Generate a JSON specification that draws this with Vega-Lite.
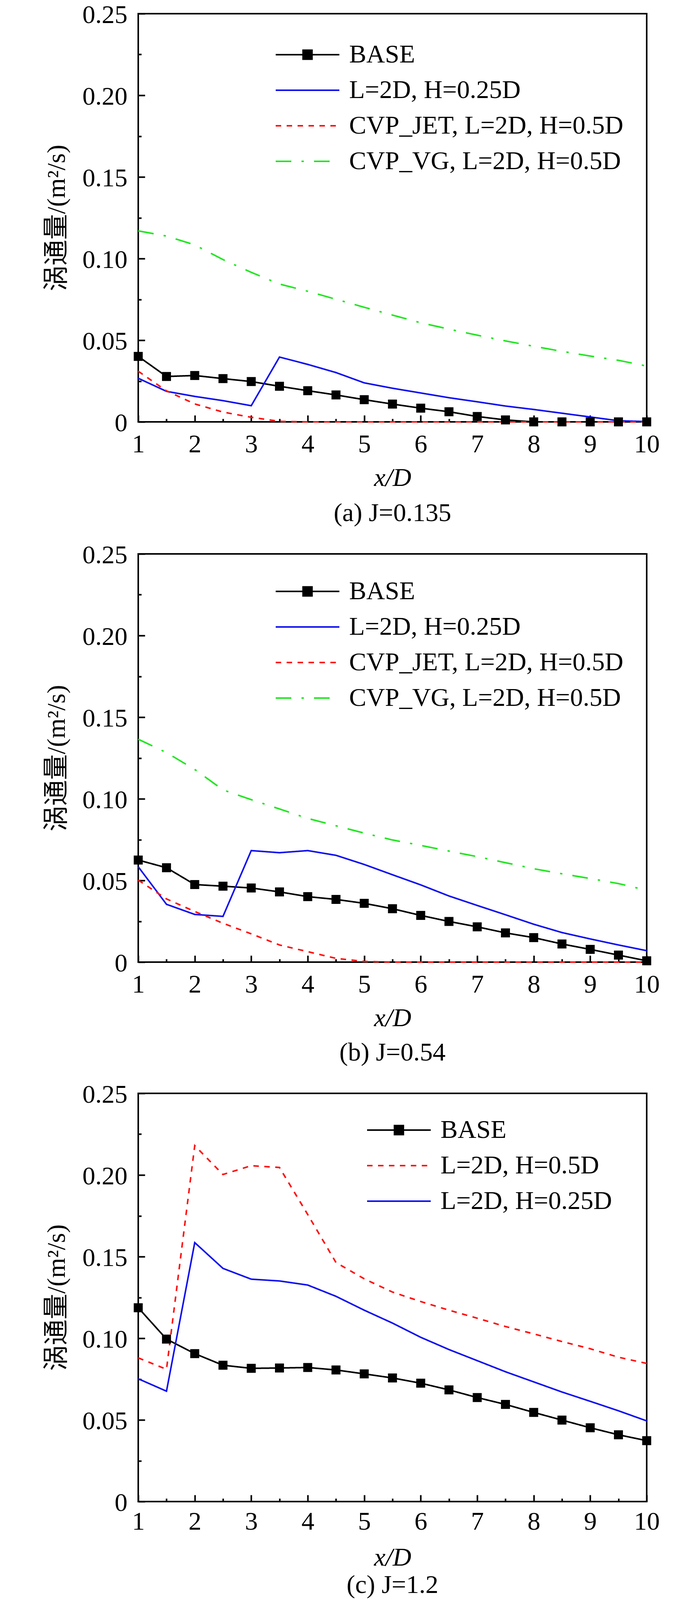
{
  "$schema": "https://vega.github.io/schema/vega-lite/v6.json",
  "padding": {"left": 110, "top": 3, "right": 5, "bottom": 0},
  "background": "white",
  "spacing": 37,
  "datasets": {
    "a": [
      {"x": 1, "s": "BASE", "v": 0.0401}, {"x": 1.5, "s": "BASE", "v": 0.0278}, {"x": 2, "s": "BASE", "v": 0.0284}, {"x": 2.5, "s": "BASE", "v": 0.0265}, {"x": 3, "s": "BASE", "v": 0.0247}, {"x": 3.5, "s": "BASE", "v": 0.0218}, {"x": 4, "s": "BASE", "v": 0.0191}, {"x": 4.5, "s": "BASE", "v": 0.0165}, {"x": 5, "s": "BASE", "v": 0.0136}, {"x": 5.5, "s": "BASE", "v": 0.0109}, {"x": 6, "s": "BASE", "v": 0.0084}, {"x": 6.5, "s": "BASE", "v": 0.0062}, {"x": 7, "s": "BASE", "v": 0.0033}, {"x": 7.5, "s": "BASE", "v": 0.0012}, {"x": 8, "s": "BASE", "v": 0.0}, {"x": 8.5, "s": "BASE", "v": 0.0}, {"x": 9, "s": "BASE", "v": 0.0}, {"x": 9.5, "s": "BASE", "v": 0.0}, {"x": 10, "s": "BASE", "v": 0.0},
      {"x": 1, "s": "L=2D, H=0.25D", "v": 0.0267}, {"x": 1.5, "s": "L=2D, H=0.25D", "v": 0.0187}, {"x": 2, "s": "L=2D, H=0.25D", "v": 0.0156}, {"x": 2.5, "s": "L=2D, H=0.25D", "v": 0.013}, {"x": 3, "s": "L=2D, H=0.25D", "v": 0.0099}, {"x": 3.5, "s": "L=2D, H=0.25D", "v": 0.0397}, {"x": 4, "s": "L=2D, H=0.25D", "v": 0.0352}, {"x": 4.5, "s": "L=2D, H=0.25D", "v": 0.0302}, {"x": 5, "s": "L=2D, H=0.25D", "v": 0.0239}, {"x": 5.5, "s": "L=2D, H=0.25D", "v": 0.0206}, {"x": 6, "s": "L=2D, H=0.25D", "v": 0.0177}, {"x": 6.5, "s": "L=2D, H=0.25D", "v": 0.0148}, {"x": 7, "s": "L=2D, H=0.25D", "v": 0.0123}, {"x": 7.5, "s": "L=2D, H=0.25D", "v": 0.0097}, {"x": 8, "s": "L=2D, H=0.25D", "v": 0.0076}, {"x": 8.5, "s": "L=2D, H=0.25D", "v": 0.0053}, {"x": 9, "s": "L=2D, H=0.25D", "v": 0.003}, {"x": 9.5, "s": "L=2D, H=0.25D", "v": 0.0007}, {"x": 10, "s": "L=2D, H=0.25D", "v": 0.0002},
      {"x": 1, "s": "CVP_JET, L=2D, H=0.5D", "v": 0.031}, {"x": 1.5, "s": "CVP_JET, L=2D, H=0.5D", "v": 0.019}, {"x": 2, "s": "CVP_JET, L=2D, H=0.5D", "v": 0.011}, {"x": 2.5, "s": "CVP_JET, L=2D, H=0.5D", "v": 0.006}, {"x": 3, "s": "CVP_JET, L=2D, H=0.5D", "v": 0.0028}, {"x": 3.5, "s": "CVP_JET, L=2D, H=0.5D", "v": 0.0003}, {"x": 4, "s": "CVP_JET, L=2D, H=0.5D", "v": 0.0}, {"x": 4.5, "s": "CVP_JET, L=2D, H=0.5D", "v": 0.0}, {"x": 5, "s": "CVP_JET, L=2D, H=0.5D", "v": 0.0}, {"x": 5.5, "s": "CVP_JET, L=2D, H=0.5D", "v": 0.0}, {"x": 6, "s": "CVP_JET, L=2D, H=0.5D", "v": 0.0}, {"x": 6.5, "s": "CVP_JET, L=2D, H=0.5D", "v": 0.0}, {"x": 7, "s": "CVP_JET, L=2D, H=0.5D", "v": 0.0}, {"x": 7.5, "s": "CVP_JET, L=2D, H=0.5D", "v": 0.0}, {"x": 8, "s": "CVP_JET, L=2D, H=0.5D", "v": 0.0}, {"x": 8.5, "s": "CVP_JET, L=2D, H=0.5D", "v": 0.0}, {"x": 9, "s": "CVP_JET, L=2D, H=0.5D", "v": 0.0}, {"x": 9.5, "s": "CVP_JET, L=2D, H=0.5D", "v": 0.0}, {"x": 10, "s": "CVP_JET, L=2D, H=0.5D", "v": 0.0},
      {"x": 1, "s": "CVP_VG, L=2D, H=0.5D", "v": 0.117}, {"x": 1.5, "s": "CVP_VG, L=2D, H=0.5D", "v": 0.1138}, {"x": 2, "s": "CVP_VG, L=2D, H=0.5D", "v": 0.1084}, {"x": 2.5, "s": "CVP_VG, L=2D, H=0.5D", "v": 0.0994}, {"x": 3, "s": "CVP_VG, L=2D, H=0.5D", "v": 0.0916}, {"x": 3.5, "s": "CVP_VG, L=2D, H=0.5D", "v": 0.0844}, {"x": 4, "s": "CVP_VG, L=2D, H=0.5D", "v": 0.08}, {"x": 4.5, "s": "CVP_VG, L=2D, H=0.5D", "v": 0.0751}, {"x": 5, "s": "CVP_VG, L=2D, H=0.5D", "v": 0.0702}, {"x": 5.5, "s": "CVP_VG, L=2D, H=0.5D", "v": 0.0654}, {"x": 6, "s": "CVP_VG, L=2D, H=0.5D", "v": 0.0607}, {"x": 6.5, "s": "CVP_VG, L=2D, H=0.5D", "v": 0.0568}, {"x": 7, "s": "CVP_VG, L=2D, H=0.5D", "v": 0.0531}, {"x": 7.5, "s": "CVP_VG, L=2D, H=0.5D", "v": 0.0496}, {"x": 8, "s": "CVP_VG, L=2D, H=0.5D", "v": 0.0463}, {"x": 8.5, "s": "CVP_VG, L=2D, H=0.5D", "v": 0.0432}, {"x": 9, "s": "CVP_VG, L=2D, H=0.5D", "v": 0.0403}, {"x": 9.5, "s": "CVP_VG, L=2D, H=0.5D", "v": 0.0377}, {"x": 10, "s": "CVP_VG, L=2D, H=0.5D", "v": 0.0342}
    ],
    "b": [
      {"x": 1, "s": "BASE", "v": 0.0625}, {"x": 1.5, "s": "BASE", "v": 0.0578}, {"x": 2, "s": "BASE", "v": 0.0475}, {"x": 2.5, "s": "BASE", "v": 0.0465}, {"x": 3, "s": "BASE", "v": 0.0454}, {"x": 3.5, "s": "BASE", "v": 0.043}, {"x": 4, "s": "BASE", "v": 0.0401}, {"x": 4.5, "s": "BASE", "v": 0.0384}, {"x": 5, "s": "BASE", "v": 0.036}, {"x": 5.5, "s": "BASE", "v": 0.0327}, {"x": 6, "s": "BASE", "v": 0.0286}, {"x": 6.5, "s": "BASE", "v": 0.0249}, {"x": 7, "s": "BASE", "v": 0.0216}, {"x": 7.5, "s": "BASE", "v": 0.0179}, {"x": 8, "s": "BASE", "v": 0.015}, {"x": 8.5, "s": "BASE", "v": 0.0111}, {"x": 9, "s": "BASE", "v": 0.0078}, {"x": 9.5, "s": "BASE", "v": 0.0043}, {"x": 10, "s": "BASE", "v": 0.0008},
      {"x": 1, "s": "L=2D, H=0.25D", "v": 0.0584}, {"x": 1.5, "s": "L=2D, H=0.25D", "v": 0.0354}, {"x": 2, "s": "L=2D, H=0.25D", "v": 0.0292}, {"x": 2.5, "s": "L=2D, H=0.25D", "v": 0.028}, {"x": 3, "s": "L=2D, H=0.25D", "v": 0.0683}, {"x": 3.5, "s": "L=2D, H=0.25D", "v": 0.067}, {"x": 4, "s": "L=2D, H=0.25D", "v": 0.0683}, {"x": 4.5, "s": "L=2D, H=0.25D", "v": 0.0654}, {"x": 5, "s": "L=2D, H=0.25D", "v": 0.0598}, {"x": 5.5, "s": "L=2D, H=0.25D", "v": 0.0535}, {"x": 6, "s": "L=2D, H=0.25D", "v": 0.0473}, {"x": 6.5, "s": "L=2D, H=0.25D", "v": 0.0405}, {"x": 7, "s": "L=2D, H=0.25D", "v": 0.0347}, {"x": 7.5, "s": "L=2D, H=0.25D", "v": 0.029}, {"x": 8, "s": "L=2D, H=0.25D", "v": 0.0232}, {"x": 8.5, "s": "L=2D, H=0.25D", "v": 0.0181}, {"x": 9, "s": "L=2D, H=0.25D", "v": 0.0142}, {"x": 9.5, "s": "L=2D, H=0.25D", "v": 0.0105}, {"x": 10, "s": "L=2D, H=0.25D", "v": 0.007},
      {"x": 1, "s": "CVP_JET, L=2D, H=0.5D", "v": 0.0502}, {"x": 1.5, "s": "CVP_JET, L=2D, H=0.5D", "v": 0.0387}, {"x": 2, "s": "CVP_JET, L=2D, H=0.5D", "v": 0.031}, {"x": 2.5, "s": "CVP_JET, L=2D, H=0.5D", "v": 0.0238}, {"x": 3, "s": "CVP_JET, L=2D, H=0.5D", "v": 0.0173}, {"x": 3.5, "s": "CVP_JET, L=2D, H=0.5D", "v": 0.0105}, {"x": 4, "s": "CVP_JET, L=2D, H=0.5D", "v": 0.0064}, {"x": 4.5, "s": "CVP_JET, L=2D, H=0.5D", "v": 0.0023}, {"x": 5, "s": "CVP_JET, L=2D, H=0.5D", "v": 0.0004}, {"x": 5.5, "s": "CVP_JET, L=2D, H=0.5D", "v": 0.0}, {"x": 6, "s": "CVP_JET, L=2D, H=0.5D", "v": 0.0}, {"x": 6.5, "s": "CVP_JET, L=2D, H=0.5D", "v": 0.0}, {"x": 7, "s": "CVP_JET, L=2D, H=0.5D", "v": 0.0}, {"x": 7.5, "s": "CVP_JET, L=2D, H=0.5D", "v": 0.0}, {"x": 8, "s": "CVP_JET, L=2D, H=0.5D", "v": 0.0}, {"x": 8.5, "s": "CVP_JET, L=2D, H=0.5D", "v": 0.0}, {"x": 9, "s": "CVP_JET, L=2D, H=0.5D", "v": 0.0}, {"x": 9.5, "s": "CVP_JET, L=2D, H=0.5D", "v": 0.0}, {"x": 10, "s": "CVP_JET, L=2D, H=0.5D", "v": 0.0},
      {"x": 1, "s": "CVP_VG, L=2D, H=0.5D", "v": 0.1365}, {"x": 1.5, "s": "CVP_VG, L=2D, H=0.5D", "v": 0.1283}, {"x": 2, "s": "CVP_VG, L=2D, H=0.5D", "v": 0.118}, {"x": 2.5, "s": "CVP_VG, L=2D, H=0.5D", "v": 0.1055}, {"x": 3, "s": "CVP_VG, L=2D, H=0.5D", "v": 0.0995}, {"x": 3.5, "s": "CVP_VG, L=2D, H=0.5D", "v": 0.0938}, {"x": 4, "s": "CVP_VG, L=2D, H=0.5D", "v": 0.088}, {"x": 4.5, "s": "CVP_VG, L=2D, H=0.5D", "v": 0.0835}, {"x": 5, "s": "CVP_VG, L=2D, H=0.5D", "v": 0.079}, {"x": 5.5, "s": "CVP_VG, L=2D, H=0.5D", "v": 0.0748}, {"x": 6, "s": "CVP_VG, L=2D, H=0.5D", "v": 0.0715}, {"x": 6.5, "s": "CVP_VG, L=2D, H=0.5D", "v": 0.068}, {"x": 7, "s": "CVP_VG, L=2D, H=0.5D", "v": 0.0646}, {"x": 7.5, "s": "CVP_VG, L=2D, H=0.5D", "v": 0.0609}, {"x": 8, "s": "CVP_VG, L=2D, H=0.5D", "v": 0.0572}, {"x": 8.5, "s": "CVP_VG, L=2D, H=0.5D", "v": 0.0541}, {"x": 9, "s": "CVP_VG, L=2D, H=0.5D", "v": 0.0512}, {"x": 9.5, "s": "CVP_VG, L=2D, H=0.5D", "v": 0.0481}, {"x": 10, "s": "CVP_VG, L=2D, H=0.5D", "v": 0.044}
    ],
    "c": [
      {"x": 1, "s": "BASE", "v": 0.1187}, {"x": 1.5, "s": "BASE", "v": 0.0995}, {"x": 2, "s": "BASE", "v": 0.0906}, {"x": 2.5, "s": "BASE", "v": 0.0835}, {"x": 3, "s": "BASE", "v": 0.0816}, {"x": 3.5, "s": "BASE", "v": 0.0818}, {"x": 4, "s": "BASE", "v": 0.0821}, {"x": 4.5, "s": "BASE", "v": 0.0806}, {"x": 5, "s": "BASE", "v": 0.0782}, {"x": 5.5, "s": "BASE", "v": 0.0757}, {"x": 6, "s": "BASE", "v": 0.0725}, {"x": 6.5, "s": "BASE", "v": 0.0684}, {"x": 7, "s": "BASE", "v": 0.0637}, {"x": 7.5, "s": "BASE", "v": 0.0595}, {"x": 8, "s": "BASE", "v": 0.0546}, {"x": 8.5, "s": "BASE", "v": 0.0499}, {"x": 9, "s": "BASE", "v": 0.0452}, {"x": 9.5, "s": "BASE", "v": 0.0409}, {"x": 10, "s": "BASE", "v": 0.0373},
      {"x": 1, "s": "L=2D, H=0.5D", "v": 0.088}, {"x": 1.5, "s": "L=2D, H=0.5D", "v": 0.081}, {"x": 2, "s": "L=2D, H=0.5D", "v": 0.218}, {"x": 2.5, "s": "L=2D, H=0.5D", "v": 0.2003}, {"x": 3, "s": "L=2D, H=0.5D", "v": 0.2057}, {"x": 3.5, "s": "L=2D, H=0.5D", "v": 0.2046}, {"x": 4, "s": "L=2D, H=0.5D", "v": 0.1758}, {"x": 4.5, "s": "L=2D, H=0.5D", "v": 0.1464}, {"x": 5, "s": "L=2D, H=0.5D", "v": 0.1364}, {"x": 5.5, "s": "L=2D, H=0.5D", "v": 0.1283}, {"x": 6, "s": "L=2D, H=0.5D", "v": 0.1225}, {"x": 6.5, "s": "L=2D, H=0.5D", "v": 0.1172}, {"x": 7, "s": "L=2D, H=0.5D", "v": 0.1123}, {"x": 7.5, "s": "L=2D, H=0.5D", "v": 0.1072}, {"x": 8, "s": "L=2D, H=0.5D", "v": 0.1027}, {"x": 8.5, "s": "L=2D, H=0.5D", "v": 0.098}, {"x": 9, "s": "L=2D, H=0.5D", "v": 0.0936}, {"x": 9.5, "s": "L=2D, H=0.5D", "v": 0.0884}, {"x": 10, "s": "L=2D, H=0.5D", "v": 0.0846},
      {"x": 1, "s": "L=2D, H=0.25D", "v": 0.0752}, {"x": 1.5, "s": "L=2D, H=0.25D", "v": 0.0676}, {"x": 2, "s": "L=2D, H=0.25D", "v": 0.1586}, {"x": 2.5, "s": "L=2D, H=0.25D", "v": 0.1428}, {"x": 3, "s": "L=2D, H=0.25D", "v": 0.1362}, {"x": 3.5, "s": "L=2D, H=0.25D", "v": 0.1351}, {"x": 4, "s": "L=2D, H=0.25D", "v": 0.1326}, {"x": 4.5, "s": "L=2D, H=0.25D", "v": 0.1257}, {"x": 5, "s": "L=2D, H=0.25D", "v": 0.1172}, {"x": 5.5, "s": "L=2D, H=0.25D", "v": 0.1093}, {"x": 6, "s": "L=2D, H=0.25D", "v": 0.1006}, {"x": 6.5, "s": "L=2D, H=0.25D", "v": 0.0931}, {"x": 7, "s": "L=2D, H=0.25D", "v": 0.0863}, {"x": 7.5, "s": "L=2D, H=0.25D", "v": 0.0795}, {"x": 8, "s": "L=2D, H=0.25D", "v": 0.0733}, {"x": 8.5, "s": "L=2D, H=0.25D", "v": 0.0671}, {"x": 9, "s": "L=2D, H=0.25D", "v": 0.0614}, {"x": 9.5, "s": "L=2D, H=0.25D", "v": 0.0556}, {"x": 10, "s": "L=2D, H=0.25D", "v": 0.0494}
    ]
  },
  "resolve": {
    "scale": {"color": "independent", "strokeDash": "independent"},
    "legend": {"color": "independent", "strokeDash": "independent"}
  },
  "vconcat": [
    {
      "width": 1302, "height": 1045,
      "data": {"name": "a"},
      "title": {"text": "(a) J=0.135", "orient": "bottom", "offset": 26},
      "layer": [
        {
          "mark": {"type": "line", "strokeWidth": 4},
          "encoding": {
            "x": {"field": "x", "type": "quantitative", "scale": {"domain": [1, 10], "nice": false, "zero": false},
                  "axis": {"title": "x/D", "titleFontStyle": "italic", "values": [1, 1.5, 2, 2.5, 3, 3.5, 4, 4.5, 5, 5.5, 6, 6.5, 7, 7.5, 8, 8.5, 9, 9.5, 10],
                           "labelExpr": "round(datum.value*10) % 10 === 0 ? format(datum.value, 'd') : ''",
                           "tickSize": {"condition": {"test": "round(datum.value*10) % 10 === 0", "value": -17}, "value": -8},
                           "labelPadding": 42, "titlePadding": 21}},
            "y": {"field": "v", "type": "quantitative", "scale": {"domain": [0, 0.25], "nice": false},
                  "axis": {"title": "涡通量/(m²/s)", "values": [0, 0.025, 0.05, 0.075, 0.1, 0.125, 0.15, 0.175, 0.2, 0.225, 0.25],
                           "labelExpr": "round(datum.value*1000) % 50 === 0 ? (datum.value === 0 ? '0' : format(datum.value, '.2f')) : ''",
                           "tickSize": {"condition": {"test": "round(datum.value*1000) % 50 === 0", "value": -17}, "value": -8},
                           "labelPadding": 45, "titlePadding": 31, "labelOffset": 3}},
            "color": {"field": "s", "type": "nominal",
                      "scale": {"domain": ["BASE", "L=2D, H=0.25D", "CVP_JET, L=2D, H=0.5D", "CVP_VG, L=2D, H=0.5D"], "range": ["#000000", "#1010F0", "#FF1010", "#22E622"]},
                      "legend": {"title": null, "orient": "none", "legendX": 350, "legendY": 72,
                                 "encode": {"symbols": {"update": {"shape": {"signal": "datum.value === 'BASE' ? 'M-1,0H1M-0.14,-0.14H0.14V0.14H-0.14Z' : 'stroke'"}, "fill": {"signal": "datum.value === 'BASE' ? '#000000' : 'transparent'"}}}}}},
            "strokeDash": {"field": "s", "type": "nominal",
                      "scale": {"domain": ["BASE", "L=2D, H=0.25D", "CVP_JET, L=2D, H=0.5D", "CVP_VG, L=2D, H=0.5D"], "range": [[1, 0], [1, 0], [14, 14], [40, 26, 6, 26]]},
                      "legend": {"title": null, "orient": "none", "legendX": 350, "legendY": 72,
                                 "encode": {"symbols": {"update": {"shape": {"signal": "datum.value === 'BASE' ? 'M-1,0H1M-0.14,-0.14H0.14V0.14H-0.14Z' : 'stroke'"}, "fill": {"signal": "datum.value === 'BASE' ? '#000000' : 'transparent'"}}}}}}
          }
        },
        {
          "transform": [{"filter": "datum.s === 'BASE'"}],
          "mark": {"type": "point", "shape": "square", "filled": true, "color": "#000000", "opacity": 1, "size": 530},
          "encoding": {
            "x": {"field": "x", "type": "quantitative"},
            "y": {"field": "v", "type": "quantitative"}
          }
        }
      ]
    },
    {
      "width": 1302, "height": 1045,
      "data": {"name": "b"},
      "title": {"text": "(b) J=0.54", "orient": "bottom", "offset": 24},
      "layer": [
        {
          "mark": {"type": "line", "strokeWidth": 4},
          "encoding": {
            "x": {"field": "x", "type": "quantitative", "scale": {"domain": [1, 10], "nice": false, "zero": false},
                  "axis": {"title": "x/D", "titleFontStyle": "italic", "values": [1, 1.5, 2, 2.5, 3, 3.5, 4, 4.5, 5, 5.5, 6, 6.5, 7, 7.5, 8, 8.5, 9, 9.5, 10],
                           "labelExpr": "round(datum.value*10) % 10 === 0 ? format(datum.value, 'd') : ''",
                           "tickSize": {"condition": {"test": "round(datum.value*10) % 10 === 0", "value": -17}, "value": -8},
                           "labelPadding": 42, "titlePadding": 21}},
            "y": {"field": "v", "type": "quantitative", "scale": {"domain": [0, 0.25], "nice": false},
                  "axis": {"title": "涡通量/(m²/s)", "values": [0, 0.025, 0.05, 0.075, 0.1, 0.125, 0.15, 0.175, 0.2, 0.225, 0.25],
                           "labelExpr": "round(datum.value*1000) % 50 === 0 ? (datum.value === 0 ? '0' : format(datum.value, '.2f')) : ''",
                           "tickSize": {"condition": {"test": "round(datum.value*1000) % 50 === 0", "value": -17}, "value": -8},
                           "labelPadding": 45, "titlePadding": 31, "labelOffset": 3}},
            "color": {"field": "s", "type": "nominal",
                      "scale": {"domain": ["BASE", "L=2D, H=0.25D", "CVP_JET, L=2D, H=0.5D", "CVP_VG, L=2D, H=0.5D"], "range": ["#000000", "#1010F0", "#FF1010", "#22E622"]},
                      "legend": {"title": null, "orient": "none", "legendX": 350, "legendY": 63,
                                 "encode": {"symbols": {"update": {"shape": {"signal": "datum.value === 'BASE' ? 'M-1,0H1M-0.14,-0.14H0.14V0.14H-0.14Z' : 'stroke'"}, "fill": {"signal": "datum.value === 'BASE' ? '#000000' : 'transparent'"}}}}}},
            "strokeDash": {"field": "s", "type": "nominal",
                      "scale": {"domain": ["BASE", "L=2D, H=0.25D", "CVP_JET, L=2D, H=0.5D", "CVP_VG, L=2D, H=0.5D"], "range": [[1, 0], [1, 0], [14, 14], [40, 26, 6, 26]]},
                      "legend": {"title": null, "orient": "none", "legendX": 350, "legendY": 63,
                                 "encode": {"symbols": {"update": {"shape": {"signal": "datum.value === 'BASE' ? 'M-1,0H1M-0.14,-0.14H0.14V0.14H-0.14Z' : 'stroke'"}, "fill": {"signal": "datum.value === 'BASE' ? '#000000' : 'transparent'"}}}}}}
          }
        },
        {
          "transform": [{"filter": "datum.s === 'BASE'"}],
          "mark": {"type": "point", "shape": "square", "filled": true, "color": "#000000", "opacity": 1, "size": 530},
          "encoding": {
            "x": {"field": "x", "type": "quantitative"},
            "y": {"field": "v", "type": "quantitative"}
          }
        }
      ]
    },
    {
      "width": 1302, "height": 1045,
      "data": {"name": "c"},
      "title": {"text": "(c) J=1.2", "orient": "bottom", "offset": 6},
      "layer": [
        {
          "mark": {"type": "line", "strokeWidth": 4},
          "encoding": {
            "x": {"field": "x", "type": "quantitative", "scale": {"domain": [1, 10], "nice": false, "zero": false},
                  "axis": {"title": "x/D", "titleFontStyle": "italic", "values": [1, 1.5, 2, 2.5, 3, 3.5, 4, 4.5, 5, 5.5, 6, 6.5, 7, 7.5, 8, 8.5, 9, 9.5, 10],
                           "labelExpr": "round(datum.value*10) % 10 === 0 ? format(datum.value, 'd') : ''",
                           "tickSize": {"condition": {"test": "round(datum.value*10) % 10 === 0", "value": -17}, "value": -8},
                           "labelPadding": 36, "titlePadding": 27}},
            "y": {"field": "v", "type": "quantitative", "scale": {"domain": [0, 0.25], "nice": false},
                  "axis": {"title": "涡通量/(m²/s)", "values": [0, 0.025, 0.05, 0.075, 0.1, 0.125, 0.15, 0.175, 0.2, 0.225, 0.25],
                           "labelExpr": "round(datum.value*1000) % 50 === 0 ? (datum.value === 0 ? '0' : format(datum.value, '.2f')) : ''",
                           "tickSize": {"condition": {"test": "round(datum.value*1000) % 50 === 0", "value": -17}, "value": -8},
                           "labelPadding": 45, "titlePadding": 31, "labelOffset": 3}},
            "color": {"field": "s", "type": "nominal",
                      "scale": {"domain": ["BASE", "L=2D, H=0.5D", "L=2D, H=0.25D"], "range": ["#000000", "#FF1010", "#1010F0"]},
                      "legend": {"title": null, "orient": "none", "legendX": 584, "legendY": 61,
                                 "encode": {"symbols": {"update": {"shape": {"signal": "datum.value === 'BASE' ? 'M-1,0H1M-0.14,-0.14H0.14V0.14H-0.14Z' : 'stroke'"}, "fill": {"signal": "datum.value === 'BASE' ? '#000000' : 'transparent'"}}}}}},
            "strokeDash": {"field": "s", "type": "nominal",
                      "scale": {"domain": ["BASE", "L=2D, H=0.5D", "L=2D, H=0.25D"], "range": [[1, 0], [14, 14], [1, 0]]},
                      "legend": {"title": null, "orient": "none", "legendX": 584, "legendY": 61,
                                 "encode": {"symbols": {"update": {"shape": {"signal": "datum.value === 'BASE' ? 'M-1,0H1M-0.14,-0.14H0.14V0.14H-0.14Z' : 'stroke'"}, "fill": {"signal": "datum.value === 'BASE' ? '#000000' : 'transparent'"}}}}}}
          }
        },
        {
          "transform": [{"filter": "datum.s === 'BASE'"}],
          "mark": {"type": "point", "shape": "square", "filled": true, "color": "#000000", "opacity": 1, "size": 530},
          "encoding": {
            "x": {"field": "x", "type": "quantitative"},
            "y": {"field": "v", "type": "quantitative"}
          }
        }
      ]
    }
  ],
  "config": {
    "view": {"stroke": "#000000", "strokeWidth": 4},
    "axis": {"grid": false, "domain": false, "labelFlush": false, "labelFont": "Liberation Serif", "labelFontSize": 66, "labelColor": "#000000",
             "tickColor": "#000000", "tickWidth": 4, "titleFont": "Liberation Serif, Noto Sans CJK SC", "titleFontSize": 66,
             "titleFontWeight": "normal", "titleColor": "#000000"},
    "axisY": {"labelBaseline": "middle"},
    "title": {"font": "Liberation Serif", "fontSize": 66, "fontWeight": "normal", "color": "#000000", "anchor": "middle"},
    "legend": {"labelFont": "Liberation Serif", "labelFontSize": 66, "labelColor": "#000000", "symbolType": "stroke", "symbolSize": 26569,
               "symbolStrokeWidth": 4, "rowPadding": 25, "clipHeight": 66, "labelOffset": 23, "padding": 0, "labelLimit": 1200}
  }
}
